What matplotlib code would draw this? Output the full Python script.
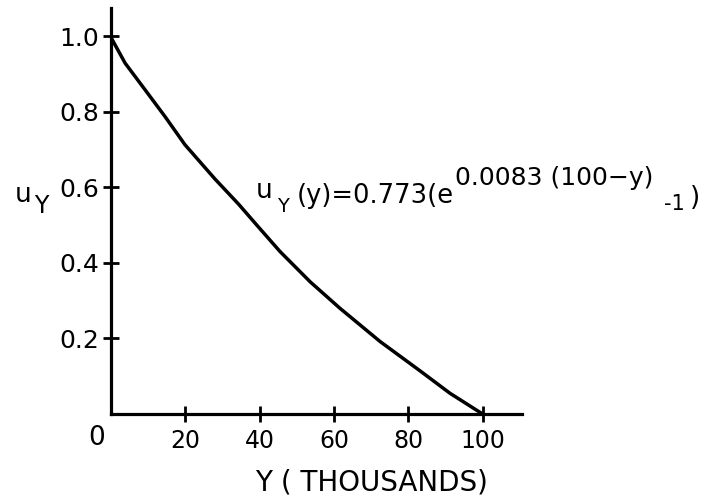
import matplotlib
matplotlib.use("Agg")
import matplotlib.pyplot as plt

# points (Y in thousands, u_Y)
y_thousands = [0, 3.8, 9.2, 14.5, 19.9, 28.0, 34.3, 39.6, 45.5, 53.6, 61.6, 72.4, 83.2, 91.2, 100]
u_values = [0.997, 0.929, 0.858, 0.788, 0.713, 0.622, 0.556, 0.496, 0.430, 0.350, 0.280, 0.192, 0.114, 0.055, 0.0]

x_ticks = [20, 40, 60, 80, 100]
y_ticks = [0.2, 0.4, 0.6, 0.8, 1.0]
y_tick_labels = ['0.2', '0.4', '0.6', '0.8', '1.0']

plt.rcParams['font.family'] = ['DejaVu Sans']

W, H = 727, 501

fig = plt.figure(figsize=(7.27, 5.01), dpi=100)
ax = fig.add_axes([111 / W, 87 / H, 411 / W, 406 / H])

ax.plot(y_thousands, u_values, color='black', lw=2.5,
        solid_capstyle='round', solid_joinstyle='round')

ax.set_xlim(0, 110.6)
ax.set_ylim(0, 1.075)
for s in ['top', 'right']:
    ax.spines[s].set_visible(False)
for s in ['left', 'bottom']:
    ax.spines[s].set_linewidth(2.3)

ax.set_xticks(x_ticks)
ax.set_yticks(y_ticks)
ax.set_yticklabels(y_tick_labels)
ax.tick_params(direction='inout', length=11, width=2, pad=3)
ax.tick_params(axis='x', labelsize=17, pad=5)
ax.tick_params(axis='y', labelsize=18)


def px_text(x, y, s, size, **kw):
    # place text by pixel position (y measured from the top)
    fig.text(x / W, 1 - y / H, s, fontsize=size, ha='left', va='baseline', **kw)


# origin label
px_text(88, 445, '0', 19)

# axis labels
fig.text(371 / W, 1 - 482 / H, 'Y ( THOUSANDS)', fontsize=20, ha='center', va='center')
px_text(15, 202, 'u', 19)
px_text(34, 213, 'Y', 17)

# the formula, built piece by piece like the lettering
px_text(256, 198, 'u', 19)
px_text(277, 212, 'Y', 14)
px_text(297, 203, '(y)=0.773(e', 18.5)
px_text(455, 185, '0.0083 (100−y)', 18)
px_text(664, 210, '-1', 15)
px_text(690, 205, ')', 19)

fig.savefig('out.png', dpi=100)
